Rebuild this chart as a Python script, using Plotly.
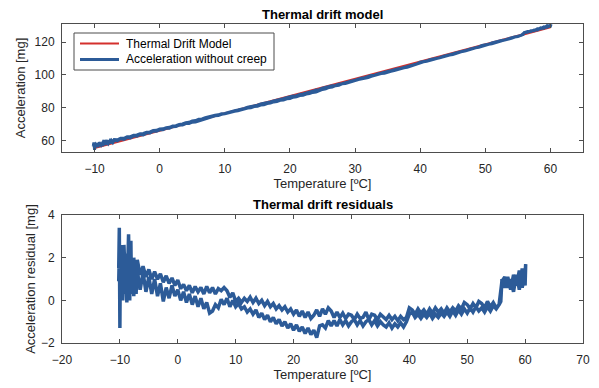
import numpy as np
import plotly.graph_objects as go
from plotly.subplots import make_subplots

# ---- Thermal drift model (straight line, read at its two ends) ----
model_temp = [-10, 60]
model_acc = [55.5, 129.0]

# ---- Residuals, heating pass (-10 -> 60 degC): (temperature, residual) ----
heat_pairs = [
    (-10.2, 1.5), (-10.1, 3.4), (-10.0, -1.3), (-9.9, 2.6), (-9.8, 0.2), (-9.6, 2.4), (-9.5, 0.0),
    (-9.3, 2.2), (-9.2, 0.3), (-9.0, 1.9), (-8.8, -0.1), (-8.6, 2.0), (-8.5, 3.1), (-8.3, 0.0),
    (-8.1, 2.8), (-8.0, 0.4), (-7.8, 1.8), (-7.6, 0.2), (-7.4, 1.6), (-7.2, 0.3), (-7.0, 1.4),
    (-6.5, 0.5), (-6.0, 1.3), (-5.5, 0.4), (-5.0, 1.1), (-4.5, 0.3), (-4.0, 1.0), (-3.5, 0.2),
    (-3.0, 0.8), (-2.5, -0.05), (-2.0, 0.6), (-1.5, 0.1), (-1.0, 0.7), (-0.5, 0.2), (0.0, 0.5),
    (0.5, 0.0), (1.0, 0.4), (1.5, -0.1), (2.0, 0.3), (2.5, -0.2), (3.0, 0.2), (3.5, -0.3),
    (4.0, 0.1), (4.5, -0.4), (5.0, -0.1), (5.5, -0.6), (6.0, -0.5), (6.5, -0.2), (7.0, -0.35),
    (7.5, 0.05), (8.0, -0.2), (8.5, 0.1), (9.0, -0.3), (9.5, 0.0), (10.0, -0.3), (10.5, -0.15),
    (11.0, -0.4), (11.5, -0.3), (12.0, -0.55), (12.5, -0.4), (13.0, -0.65), (13.5, -0.45),
    (14.0, -0.8), (14.5, -0.6), (15.0, -0.9), (15.5, -0.7), (16.0, -1.0), (16.5, -0.8),
    (17.0, -1.1), (17.5, -0.9), (18.0, -1.2), (18.5, -1.0), (19.0, -1.3), (19.5, -1.1),
    (20.0, -1.4), (20.5, -1.15), (21.0, -1.45), (21.5, -1.25), (22.0, -1.55), (22.5, -1.3),
    (23.0, -1.6), (23.5, -1.4), (24.0, -1.75), (24.5, -1.2), (25.0, -1.15), (25.5, -1.3),
    (26.0, -0.95), (26.5, -1.2), (27.0, -0.95), (27.5, -1.2), (28.0, -0.9), (28.5, -1.15),
    (29.0, -0.95), (29.5, -1.2), (30.0, -1.0), (30.5, -0.9), (31.0, -1.15), (31.5, -0.95),
    (32.0, -1.2), (32.5, -1.0), (33.0, -0.9), (33.5, -1.15), (34.0, -0.95), (34.5, -1.2),
    (35.0, -1.0), (35.5, -1.15), (36.0, -1.25), (36.5, -1.05), (37.0, -1.3), (37.5, -1.1),
    (38.0, -1.25), (38.5, -1.05), (39.0, -1.25), (39.5, -1.0), (40.0, -0.65), (40.5, -0.55),
    (41.0, -0.8), (41.5, -0.65), (42.0, -0.85), (42.5, -0.65), (43.0, -0.8), (43.5, -0.6),
    (44.0, -0.85), (44.5, -0.65), (45.0, -0.8), (45.5, -0.6), (46.0, -0.75), (46.5, -0.55),
    (47.0, -0.75), (47.5, -0.5), (48.0, -0.7), (48.5, -0.45), (49.0, -0.65), (49.5, -0.4),
    (50.0, -0.6), (50.5, -0.35), (51.0, -0.55), (51.5, -0.3), (52.0, -0.5), (52.5, -0.35),
    (53.0, -0.55), (53.5, -0.3), (54.0, -0.5), (54.5, -0.25), (55.0, -0.4), (55.5, -0.2),
    (56.0, 0.9), (56.5, 1.1), (57.0, 0.6), (57.5, 1.0), (58.0, 0.4), (58.5, 1.2), (59.0, 0.5),
    (59.5, 1.5), (60.0, 0.7), (60.1, 1.7),
]

# ---- Residuals, cooling pass (60 -> -10 degC): (temperature, residual) ----
cool_pairs = [
    (60.0, 1.3), (59.5, 0.6), (59.0, 1.4), (58.5, 0.7), (58.0, 1.2), (57.5, 0.5), (57.0, 1.1),
    (56.5, 0.6), (56.0, 1.0), (55.8, -0.05), (55.5, -0.2), (55.0, -0.35), (54.5, -0.1),
    (54.0, -0.3), (53.5, -0.05), (53.0, -0.35), (52.5, -0.15), (52.0, -0.05), (51.5, -0.35),
    (51.0, -0.15), (50.5, -0.4), (50.0, -0.2), (49.5, -0.1), (49.0, -0.4), (48.5, -0.25),
    (48.0, -0.5), (47.5, -0.35), (47.0, -0.55), (46.5, -0.35), (46.0, -0.6), (45.5, -0.4),
    (45.0, -0.55), (44.5, -0.35), (44.0, -0.6), (43.5, -0.4), (43.0, -0.65), (42.5, -0.45),
    (42.0, -0.6), (41.5, -0.4), (41.0, -0.65), (40.5, -0.45), (40.0, -0.35), (39.5, -0.8),
    (39.0, -0.9), (38.5, -0.75), (38.0, -0.95), (37.5, -0.75), (37.0, -0.9), (36.5, -0.7),
    (36.0, -0.9), (35.5, -0.75), (35.0, -0.65), (34.5, -0.9), (34.0, -0.7), (33.5, -0.65),
    (33.0, -0.9), (32.5, -0.55), (32.0, -0.8), (31.5, -0.85), (31.0, -0.65), (30.5, -0.9),
    (30.0, -0.7), (29.5, -0.65), (29.0, -0.85), (28.5, -0.6), (28.0, -0.8), (27.5, -0.55),
    (27.0, -0.8), (26.5, -0.5), (26.0, -0.35), (25.5, -0.65), (25.0, -0.4), (24.5, -0.75),
    (24.0, -0.45), (23.5, -0.7), (23.0, -0.85), (22.5, -0.55), (22.0, -0.8), (21.5, -0.5),
    (21.0, -0.75), (20.5, -0.45), (20.0, -0.65), (19.5, -0.4), (19.0, -0.55), (18.5, -0.3),
    (18.0, -0.45), (17.5, -0.25), (17.0, -0.4), (16.5, -0.15), (16.0, -0.3), (15.5, -0.05),
    (15.0, -0.25), (14.5, 0.0), (14.0, -0.15), (13.5, 0.1), (13.0, -0.1), (12.5, 0.15),
    (12.0, -0.05), (11.5, 0.1), (11.0, -0.1), (10.5, 0.1), (10.0, -0.05), (9.5, 0.35),
    (9.0, 0.15), (8.5, 0.45), (8.0, 0.6), (7.5, 0.45), (7.0, 0.55), (6.5, 0.3), (6.0, 0.6),
    (5.5, 0.35), (5.0, 0.65), (4.5, 0.3), (4.0, 0.6), (3.5, 0.4), (3.0, 0.65), (2.5, 0.35),
    (2.0, 0.7), (1.5, 0.45), (1.0, 0.75), (0.5, 0.55), (0.0, 0.95), (-0.5, 0.7), (-1.0, 1.05),
    (-1.5, 0.8), (-2.0, 1.15), (-2.5, 0.85), (-3.0, 1.25), (-3.5, 1.0), (-4.0, 1.35),
    (-4.5, 1.0), (-5.0, 1.45), (-5.5, 1.1), (-6.0, 1.6), (-6.5, 1.2), (-7.0, 1.9), (-7.3, 0.6),
    (-7.6, 2.0), (-7.9, 0.3), (-8.2, 2.4), (-8.4, 0.1), (-8.7, 2.2), (-9.0, 0.5), (-9.3, 2.6),
    (-9.5, 0.2), (-9.8, 2.0), (-10.0, 0.8), (-10.1, 2.2), (-10.2, 0.9),
]

x_ticks_top = [-10, 0, 10, 20, 30, 40, 50, 60]
y_ticks_top = [60, 80, 100, 120]
x_ticks_bot = [-20, -10, 0, 10, 20, 30, 40, 50, 60, 70]
y_ticks_bot = [-2, 0, 2, 4]

series_names = ["Thermal Drift Model", "Acceleration without creep"]

heat_temp = [p[0] for p in heat_pairs]
heat_res = [p[1] for p in heat_pairs]
cool_temp = [p[0] for p in cool_pairs]
cool_res = [p[1] for p in cool_pairs]

# residual = acceleration - model  ->  acceleration = model + residual
temp_all = np.array(heat_temp + cool_temp)
res_all = np.array(heat_res + cool_res)
slope = (model_acc[1] - model_acc[0]) / (model_temp[1] - model_temp[0])
acc_all = model_acc[0] + slope * (temp_all - model_temp[0]) + res_all

BLUE = "#2c5b98"
RED = "#d4302d"
AX = "#4d4d4d"
TXT = "#262626"
FONT = "Liberation Sans, Arial, sans-serif"

W, H = 599, 388
ML, MR, MT, MB = 62, 16, 24, 45

fig = make_subplots(rows=2, cols=1)

fig.add_trace(go.Scatter(x=model_temp, y=model_acc, mode="lines", name=series_names[0],
                         showlegend=False, line=dict(color=RED, width=2.2)), row=1, col=1)
fig.add_trace(go.Scatter(x=temp_all, y=acc_all, mode="lines", name=series_names[1],
                         showlegend=False, line=dict(color=BLUE, width=3)), row=1, col=1)
fig.add_trace(go.Scatter(x=temp_all, y=res_all, mode="lines", showlegend=False,
                         line=dict(color=BLUE, width=3.5)), row=2, col=1)

axis_common = dict(showline=True, linecolor=AX, linewidth=1, mirror="ticks", ticks="inside",
                   ticklen=4, tickcolor=AX, showgrid=False, zeroline=False, automargin=False,
                   tickfont=dict(family=FONT, size=12, color=TXT))

fig.update_xaxes(**axis_common, ticklabelstandoff=6)
fig.update_yaxes(**axis_common, ticklabelstandoff=4)

tfont = dict(family=FONT, size=13, color=TXT)
fig.update_xaxes(range=[-15, 65], tickvals=x_ticks_top, domain=[0, 1], row=1, col=1,
                 title=dict(text="Temperature [ºC]", font=tfont, standoff=1))
fig.update_yaxes(range=[53, 131], tickvals=y_ticks_top, domain=[0.599, 1.0], row=1, col=1,
                 title=dict(text="Acceleration [mg]", font=tfont, standoff=6))
fig.update_xaxes(range=[-20, 70], tickvals=x_ticks_bot, domain=[0, 1], row=2, col=1,
                 title=dict(text="Temperature [ºC]", font=tfont, standoff=0))
fig.update_yaxes(range=[-2, 4], tickvals=y_ticks_bot, domain=[0.0, 0.401], row=2, col=1,
                 title=dict(text="Acceleration residual [mg]", font=tfont, standoff=2))

fig.add_annotation(text="<b>Thermal drift model</b>", xref="paper", yref="paper", x=0.5, y=1.0,
                   yshift=0, xanchor="center", yanchor="bottom", showarrow=False,
                   font=dict(family=FONT, size=13, color="black"))
fig.add_annotation(text="<b>Thermal drift residuals</b>", xref="paper", yref="paper", x=0.5, y=0.401,
                   yshift=1, xanchor="center", yanchor="bottom", showarrow=False,
                   font=dict(family=FONT, size=13, color="black"))

# ---- legend box drawn in the upper axes (paper coordinates) ----
pw, ph = W - ML - MR, H - MT - MB
def px(x):
    return (x - ML) / pw
def py(y):
    return (H - MB - y) / ph

fig.add_shape(type="rect", xref="paper", yref="paper", x0=px(74), x1=px(274), y0=py(70), y1=py(33),
              line=dict(color=AX, width=1), fillcolor="white", layer="above")
for i, (name, col) in enumerate(zip(series_names, [RED, BLUE])):
    yy = 43.5 + 16 * i
    fig.add_shape(type="line", xref="paper", yref="paper", x0=px(80), x1=px(119), y0=py(yy), y1=py(yy),
                  line=dict(color=col, width=2.2 if i == 0 else 3), layer="above")
    fig.add_annotation(text=name, xref="paper", yref="paper", x=px(124), y=py(yy), xanchor="left",
                       yanchor="middle", showarrow=False, font=dict(family=FONT, size=12, color="black"))

fig.update_layout(
    width=W, height=H,
    margin=dict(l=ML, r=MR, t=MT, b=MB),
    paper_bgcolor="white", plot_bgcolor="white",
    font=dict(family=FONT, color=TXT),
    showlegend=False,
)

fig.write_html("out.html", config={"displayModeBar": False},
               post_script="document.body.style.margin='0';")
